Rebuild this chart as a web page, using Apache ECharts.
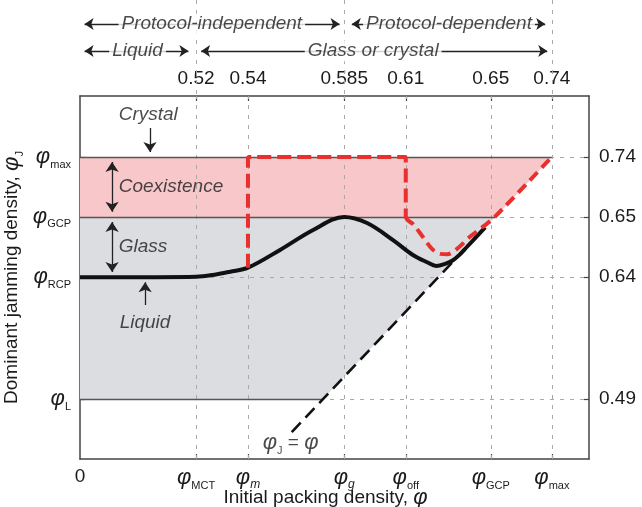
<!DOCTYPE html>
<html><head><meta charset="utf-8">
<script src="https://cdn.jsdelivr.net/npm/echarts@6/dist/echarts.min.js"></script>
<style>html,body{margin:0;padding:0;background:#fff}#c{width:642px;height:507px}</style>
</head><body><div id="c"></div>
<script>
// ---------- schematic data (x: 0..100 across plot, y: 0..100 bottom to top) ----------
const xTickPos    = [0, 22.8, 33, 51.9, 64, 80.7, 92.7];
const xTickLabels = ['0', 'φMCT', 'φm', 'φg', 'φoff', 'φGCP', 'φmax'];
const topTickPos    = [22.8, 33, 51.9, 64, 80.7, 92.7];
const topTickLabels = ['0.52', '0.54', '0.585', '0.61', '0.65', '0.74'];
const yTickPos    = [16.5, 50.1, 66.7, 83.2];
const yTickLabels = ['φL', 'φRCP', 'φGCP', 'φmax'];
const rightTickLabels = ['0.49', '0.64', '0.65', '0.74'];

// phi_J = phi line (two points)
const diagX = [41.6, 76.0];
const diagY = [7.4, 58.4];

// dominant jamming density curve (black)
const curveX = [0, 15, 22.8, 26.1, 29.5, 33.0, 39.3, 45.8, 51.9, 56.4, 61.5, 65.4, 68.2, 70.0, 71.6, 73.2, 74.6, 76.0, 79.6];
const curveY = [50.1, 50.1, 50.2, 50.7, 51.6, 52.7, 57.6, 63.1, 66.7, 65.0, 60.3, 56.2, 54.2, 53.2, 53.7, 54.7, 56.3, 58.4, 63.8];

// red dashed path: step part and dip part
const redStepX = [33.0, 33.0, 64.0, 64.0];
const redStepY = [52.7, 83.2, 83.2, 66.7];
const redDipX = [64.0, 64.3, 65.5, 67.3, 69.2, 70.8, 72.2, 74.0, 76.6, 79.2, 81.5, 92.7];
const redDipY = [66.7, 65.9, 64.6, 61.3, 57.8, 56.5, 56.4, 57.8, 61.2, 64.0, 66.7, 83.2];

// in-plot annotations
const noteText = ['Crystal', 'Coexistence', 'Glass', 'Liquid'];
const noteX = [7.5, 7.5, 7.5, 7.7];
const noteY = [94.8, 74.9, 58.4, 37.5];

// top band (second grid, y = rows from top)
const bandText = ['Protocol-independent', 'Protocol-dependent', 'Liquid', 'Glass or crystal'];
const bandX = [25.9, 72.5, 11.3, 57.6];
const bandRow = [24, 24, 51, 51];
const bandArrowFrom = [0.9, 53.4, 0.9, 23.8];
const bandArrowTo   = [51.0, 91.4, 21.3, 91.8];
const bandLineX = [22.8, 51.9, 92.7];

// ---------- helpers ----------
const FONT = '"Liberation Sans", Arial, Helvetica, sans-serif';
const TXT = '#1b1b1b';
const AX = '#444';
const ITALIC_SUBS = ['m', 'g'];
const zip = (a, b) => a.map((v, i) => [v, b[i]]);
const slope = (diagY[1] - diagY[0]) / (diagX[1] - diagX[0]);
const xDiag = y => diagX[0] + (y - diagY[0]) / slope;

const rich = {
  p: {fontSize: 22, fontStyle: 'italic', fontFamily: FONT, color: TXT, lineHeight: 26},
  s: {fontSize: 11, fontFamily: FONT, color: TXT, lineHeight: 14, verticalAlign: 'bottom'},
  si: {fontSize: 12, fontStyle: 'italic', fontFamily: FONT, color: TXT, lineHeight: 14, verticalAlign: 'bottom'},
  n: {fontSize: 19, fontFamily: FONT, color: TXT, lineHeight: 24},
  t: {fontSize: 19, fontFamily: FONT, color: TXT, lineHeight: 26},
  e: {fontSize: 19, fontFamily: FONT, color: TXT, lineHeight: 26}
};
function fmt(pos, labels) {
  return function (v) {
    const i = pos.findIndex(p => Math.abs(p - v) < 1e-6);
    if (i < 0) return '';
    const t = labels[i];
    if (t.charAt(0) !== 'φ') return '{n|' + t + '}';
    const sub = t.slice(1);
    return '{p|φ}{' + (ITALIC_SUBS.includes(sub) ? 'si' : 's') + '|' + sub + '}';
  };
}

const MAX = yTickPos[3], GCP = yTickPos[2], RCP = yTickPos[1], PL = yTickPos[0];
const polys = [
  {pts: [[0, GCP], [0, MAX], [xTickPos[6], MAX], [xDiag(GCP), GCP]], fill: '#f8c7ca'},
  {pts: [[0, PL], [0, GCP], [xDiag(GCP), GCP], [xDiag(PL), PL]], fill: '#dcdde0'}
];

const gridDash = []
  .concat(xTickPos.slice(1).map(x => ({coords: [[x, 0], [x, 100]]})))
  .concat(yTickPos.map(y => ({coords: [[0, y], [100, y]]})));
const phaseLines = [
  {coords: [[0, MAX], [xTickPos[6], MAX]]},
  {coords: [[0, GCP], [xDiag(GCP), GCP]]},
  {coords: [[0, PL], [xDiag(PL), PL]]}
];
const HIDDEN = {color: 'rgba(0,0,0,0)'};

const chart = echarts.init(document.getElementById('c'), null, {renderer: 'canvas'});
const option = {
  animation: false,
  backgroundColor: '#fff',
  grid: [
    {left: 80, right: 53, top: 96, bottom: 48, containLabel: false, outerBoundsMode: 'none'},
    {left: 80, right: 53, top: 0, height: 96, containLabel: false, outerBoundsMode: 'none'}
  ],
  xAxis: [
    {gridIndex: 0, type: 'value', min: 0, max: 100, position: 'bottom',
      axisLine: {show: true, onZero: false, lineStyle: {color: AX, width: 1.5}},
      axisTick: {show: true, inside: true, length: 5, customValues: xTickPos.slice(1), lineStyle: {color: AX, width: 1.2}},
      axisLabel: {customValues: xTickPos, formatter: fmt(xTickPos, xTickLabels), rich: rich, margin: 6, showMinLabel: true, showMaxLabel: true},
      splitLine: {show: false},
      name: '{t|Initial packing density, }{p|φ}', nameLocation: 'middle', nameGap: 26, nameMoveOverlap: false,
      nameTextStyle: {rich: rich, padding: [0, 18, 0, 0]}},
    {gridIndex: 0, type: 'value', min: 0, max: 100, position: 'top',
      axisLine: {show: true, onZero: false, lineStyle: {color: AX, width: 1.5}},
      axisTick: {show: true, inside: true, length: 5, customValues: topTickPos, lineStyle: {color: AX, width: 1.2}},
      axisLabel: {customValues: topTickPos, formatter: fmt(topTickPos, topTickLabels), rich: rich, margin: 5},
      splitLine: {show: false}},
    {gridIndex: 1, type: 'value', min: 0, max: 100, show: false}
  ],
  yAxis: [
    {gridIndex: 0, type: 'value', min: 0, max: 100, position: 'left',
      axisLine: {show: true, onZero: false, lineStyle: {color: AX, width: 1.5}},
      axisTick: {show: true, inside: true, length: 5, customValues: yTickPos, lineStyle: {color: AX, width: 1.2}},
      axisLabel: {customValues: yTickPos, formatter: fmt(yTickPos, yTickLabels), rich: rich, margin: 9},
      splitLine: {show: false},
      name: '{t|Dominant jamming density, }{p|φ}{s|J}', nameLocation: 'middle', nameGap: 55, nameMoveOverlap: false,
      nameTextStyle: {rich: rich}},
    {gridIndex: 0, type: 'value', min: 0, max: 100, position: 'right',
      axisLine: {show: true, onZero: false, lineStyle: {color: AX, width: 1.5}},
      axisTick: {show: true, inside: true, length: 5, customValues: yTickPos, lineStyle: {color: AX, width: 1.2}},
      axisLabel: {customValues: yTickPos, formatter: fmt(yTickPos, rightTickLabels), rich: rich, margin: 10},
      splitLine: {show: false}},
    {gridIndex: 1, type: 'value', min: 0, max: 96, inverse: true, show: false}
  ],
  series: [
    {type: 'custom', xAxisIndex: 0, yAxisIndex: 0, z: 1, silent: true, clip: true,
      data: polys.map((p, i) => [i, 0]),
      renderItem: function (params, api) {
        const poly = polys[params.dataIndex];
        return {type: 'polygon', shape: {points: poly.pts.map(p => api.coord(p))}, style: {fill: poly.fill}};
      }},
    {type: 'lines', coordinateSystem: 'cartesian2d', xAxisIndex: 0, yAxisIndex: 0, z: 2, silent: true,
      data: gridDash, lineStyle: {color: '#a9a9a9', width: 1, type: [4, 6], opacity: 1}},
    {type: 'lines', coordinateSystem: 'cartesian2d', xAxisIndex: 0, yAxisIndex: 0, z: 3, silent: true,
      data: phaseLines, lineStyle: {color: '#555', width: 1.3, opacity: 1}},
    {type: 'line', xAxisIndex: 0, yAxisIndex: 0, z: 4, silent: true, symbol: 'none',
      data: zip(diagX, diagY), lineStyle: {color: '#111', width: 2.6, type: [13, 7]}},
    {type: 'line', xAxisIndex: 0, yAxisIndex: 0, z: 5, silent: true, symbol: 'none', smooth: 0.35,
      data: zip(curveX, curveY), lineStyle: {color: '#111', width: 4}},
    {type: 'line', xAxisIndex: 0, yAxisIndex: 0, z: 6, silent: true, symbol: 'none',
      data: zip(redStepX, redStepY), lineStyle: {color: '#e8302e', width: 4, type: [14, 6]}},
    {type: 'line', xAxisIndex: 0, yAxisIndex: 0, z: 6, silent: true, symbol: 'none', smooth: 0.3,
      data: zip(redDipX, redDipY), lineStyle: {color: '#e8302e', width: 4, type: [11, 6]}},
    {type: 'lines', coordinateSystem: 'cartesian2d', xAxisIndex: 0, yAxisIndex: 0, z: 7, silent: true,
      symbol: ['arrow', 'arrow'], symbolSize: 10,
      data: [{coords: [[6.3, MAX - 1.4], [6.3, GCP + 1.4]]}, {coords: [[6.3, GCP - 1.4], [6.3, RCP + 1.4]]}],
      lineStyle: {color: '#222', width: 1.3, opacity: 1}},
    {type: 'lines', coordinateSystem: 'cartesian2d', xAxisIndex: 0, yAxisIndex: 0, z: 7, silent: true,
      symbol: ['none', 'arrow'], symbolSize: 10,
      data: [{coords: [[13.75, 91.2], [13.75, MAX + 1.4]]}, {coords: [[12.8, 42.4], [12.8, RCP - 1.4]]}],
      lineStyle: {color: '#222', width: 1.3, opacity: 1}},
    {type: 'scatter', xAxisIndex: 0, yAxisIndex: 0, z: 8, silent: true, symbolSize: 1, itemStyle: HIDDEN,
      data: noteText.map((t, i) => ({value: [noteX[i], noteY[i]], label: {formatter: t}})),
      label: {show: true, position: 'right', distance: 0, fontSize: 19, fontStyle: 'italic', fontFamily: FONT, color: TXT}},
    {type: 'scatter', xAxisIndex: 0, yAxisIndex: 0, z: 8, silent: true, symbolSize: 1, itemStyle: HIDDEN,
      data: [{value: [35.8, 4.4]}],
      label: {show: true, position: 'right', distance: 0, formatter: '{p|φ}{s|J}{e| = }{p|φ}', rich: rich}},
    {type: 'lines', coordinateSystem: 'cartesian2d', xAxisIndex: 2, yAxisIndex: 2, z: 2, silent: true,
      data: bandLineX.map(x => ({coords: [[x, 0], [x, 96]]})),
      lineStyle: {color: '#a9a9a9', width: 1, type: [4, 6], opacity: 1}},
    {type: 'lines', coordinateSystem: 'cartesian2d', xAxisIndex: 2, yAxisIndex: 2, z: 3, silent: true,
      symbol: ['arrow', 'arrow'], symbolSize: 9,
      data: bandText.map((t, i) => ({coords: [[bandArrowFrom[i], bandRow[i]], [bandArrowTo[i], bandRow[i]]]})),
      lineStyle: {color: '#222', width: 1.3, opacity: 1}},
    {type: 'scatter', xAxisIndex: 2, yAxisIndex: 2, z: 4, silent: true, symbolSize: 1, itemStyle: HIDDEN,
      data: bandText.map((t, i) => ({value: [bandX[i], bandRow[i]], label: {formatter: t}})),
      label: {show: true, position: 'inside', fontSize: 19, fontStyle: 'italic', fontFamily: FONT, color: TXT,
        backgroundColor: '#fff', padding: [1, 3]}}
  ]
};
chart.setOption(option);
</script>
</body></html>
